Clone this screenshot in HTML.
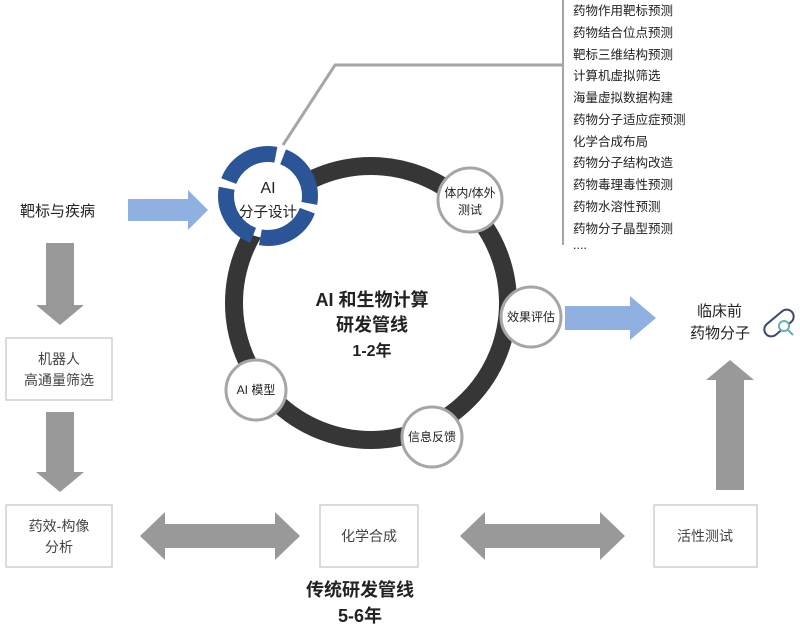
<!DOCTYPE html>
<html><head><meta charset="utf-8"><style>
body{margin:0;background:#fff;}
svg text{font-family:"Liberation Sans","Noto Sans CJK SC",sans-serif;}
</style></head><body>
<svg width="800" height="636" viewBox="0 0 800 636" xmlns="http://www.w3.org/2000/svg">
<polyline points="283,145 335,65 563,65" fill="none" stroke="#a6a6a6" stroke-width="3"/>
<line x1="563" y1="0" x2="563" y2="245" stroke="#a6a6a6" stroke-width="2"/>
<g font-size="12.5" fill="#222">
<text x="573" y="15">药物作用靶标预测</text>
<text x="573" y="37">药物结合位点预测</text>
<text x="573" y="59">靶标三维结构预测</text>
<text x="573" y="80">计算机虚拟筛选</text>
<text x="573" y="102">海量虚拟数据构建</text>
<text x="573" y="124">药物分子适应症预测</text>
<text x="573" y="146">化学合成布局</text>
<text x="573" y="167">药物分子结构改造</text>
<text x="573" y="189">药物毒理毒性预测</text>
<text x="573" y="211">药物水溶性预测</text>
<text x="573" y="233">药物分子晶型预测</text>
<text x="573" y="249">....</text>
</g>
<circle cx="371" cy="303" r="137" fill="none" stroke="#363636" stroke-width="18"/>
<!-- blue arrows (behind circles) -->
<polygon points="128,199 188,199 188,190 208,210 188,230 188,221 128,221" fill="#8fb0e0"/>
<polygon points="565,306 630,306 630,296 656,318 630,340 630,330 565,330" fill="#8fb0e0"/>
<!-- blue ring -->
<circle cx="268" cy="196" r="42" fill="#fff" stroke="#2c5597" stroke-width="16" stroke-dasharray="58.5 7.5" stroke-dashoffset="51"/>
<text x="268" y="193" font-size="16" text-anchor="middle" fill="#222">AI</text>
<text x="268" y="217" font-size="14.5" text-anchor="middle" fill="#222">分子设计</text>
<g fill="#fff" stroke="#a6a6a6" stroke-width="3">
<circle cx="470" cy="200" r="32"/><circle cx="531" cy="317" r="30"/>
<circle cx="432" cy="437" r="30"/><circle cx="256" cy="390" r="30"/>
</g>
<g font-size="12" fill="#222" text-anchor="middle">
<text x="470" y="197">体内/体外</text><text x="470" y="214">测试</text>
<text x="531" y="321">效果评估</text>
<text x="432" y="441">信息反馈</text>
<text x="256" y="394">AI 模型</text>
</g>
<g font-size="18" font-weight="bold" fill="#222" text-anchor="middle">
<text x="372" y="306">AI 和生物计算</text>
<text x="372" y="331">研发管线</text>
<text x="372" y="356" font-size="16">1-2年</text>
<text x="360" y="596">传统研发管线</text>
<text x="360" y="622">5-6年</text>
</g>
<g fill="#999">
<polygon points="46,243 74,243 74,305 84,305 60,325 36,305 46,305"/>
<polygon points="46,412 74,412 74,472 84,472 60,492 36,472 46,472"/>
<polygon points="716,490 744,490 744,380 754,380 730,360 706,380 716,380"/>
<polygon points="140,536 165,512 165,524 275,524 275,512 300,536 275,560 275,548 165,548 165,560"/>
<polygon points="460,536 485,512 485,524 600,524 600,512 625,536 600,560 600,548 485,548 485,560"/>
</g>
<g fill="#fff" stroke="#cfcfcf" stroke-width="1.5">
<rect x="6" y="338" width="106" height="62"/><rect x="6" y="505" width="106" height="62"/>
<rect x="320" y="505" width="98" height="62"/><rect x="654" y="505" width="103" height="62"/>
</g>
<g font-size="14" fill="#444" text-anchor="middle">
<text x="59" y="364">机器人</text><text x="59" y="385">高通量筛选</text>
<text x="59" y="531">药效-构像</text><text x="59" y="552">分析</text>
<text x="369" y="541">化学合成</text><text x="705" y="541">活性测试</text>
</g>
<g font-size="15" fill="#222">
<text x="20" y="216">靶标与疾病</text>
<text x="697" y="316">临床前</text><text x="690" y="338">药物分子</text>
</g>
<g fill="none" stroke="#3a4a6a" stroke-width="2">
<rect x="762" y="316" width="34" height="14" rx="7" transform="rotate(-40 779 323)"/>
</g>
<circle cx="784" cy="326" r="5" fill="#fff" stroke="#6ab0b0" stroke-width="2"/>
<line x1="788" y1="330" x2="793" y2="335" stroke="#6ab0b0" stroke-width="2"/>
</svg>
</body></html>
